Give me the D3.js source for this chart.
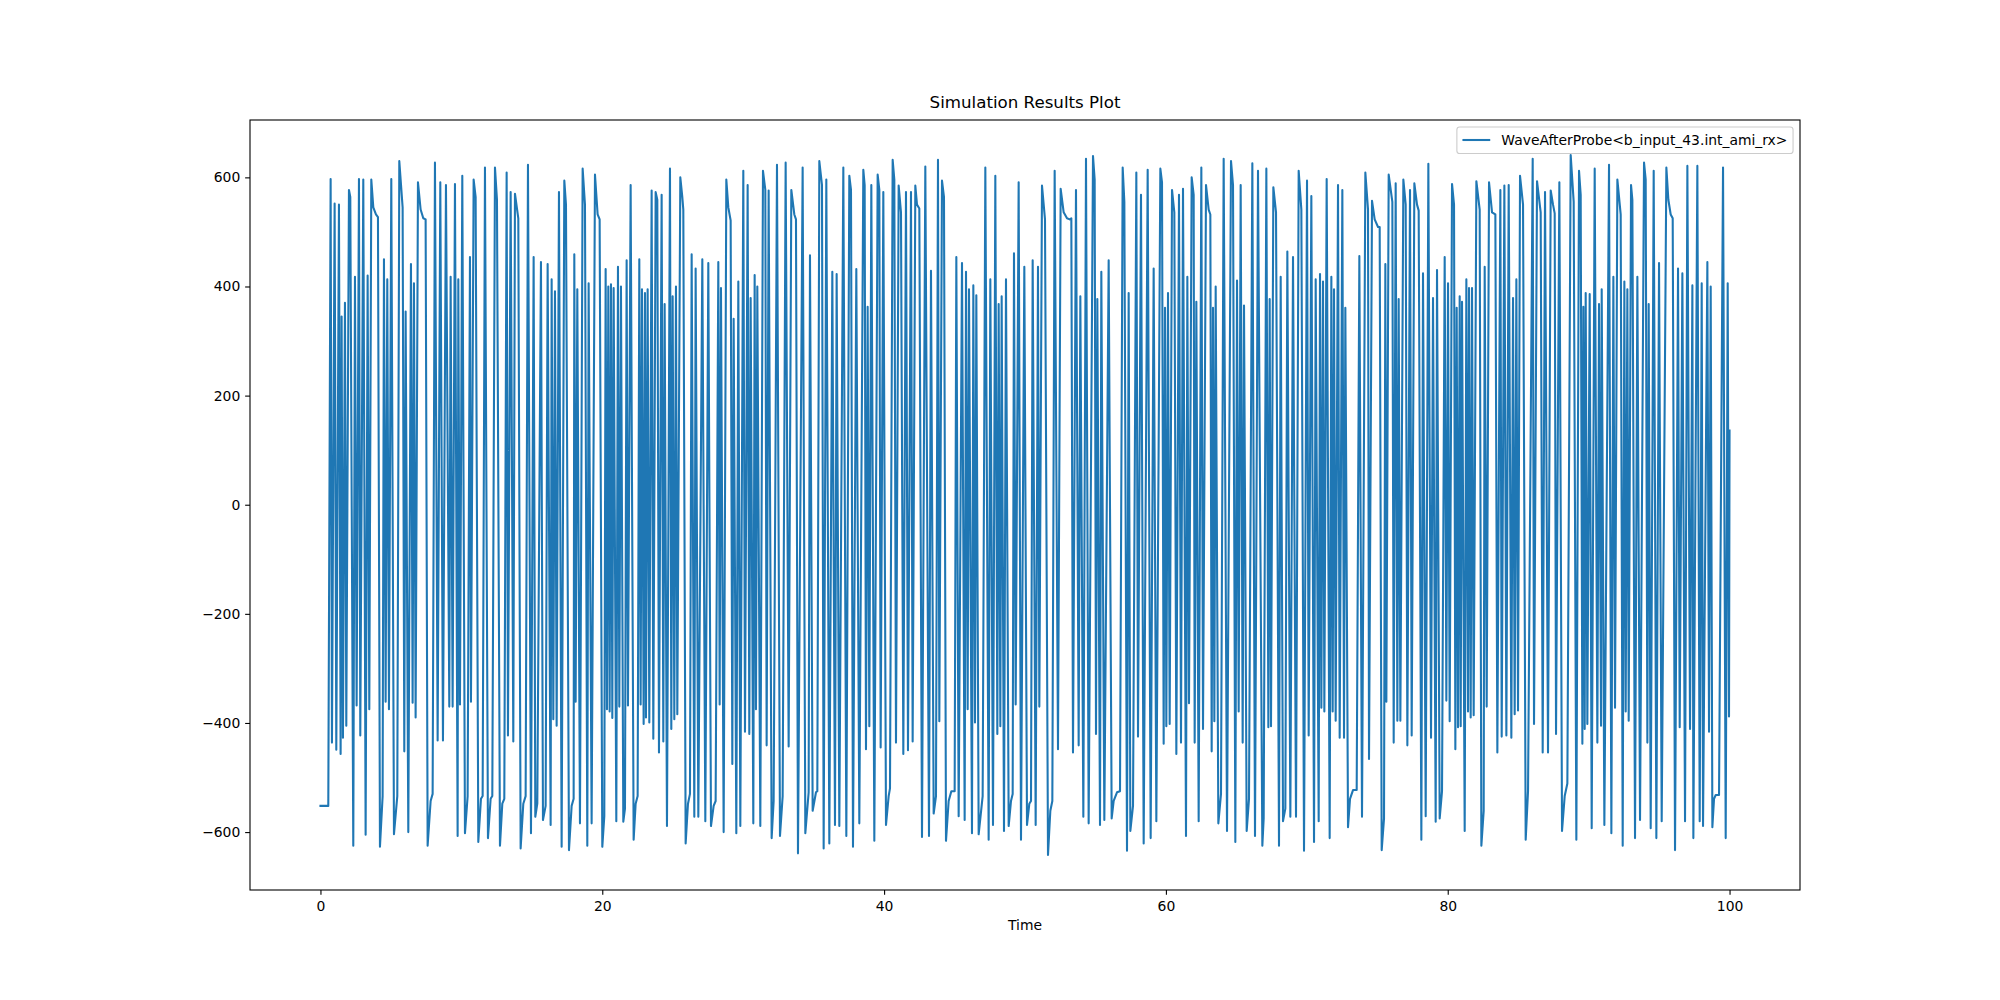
<!DOCTYPE html>
<html><head><meta charset="utf-8">
<script src="https://cdn.jsdelivr.net/npm/d3@7"></script>
<style>body{margin:0;background:#fff} svg{display:block} text{font-family:"DejaVu Sans",sans-serif;fill:#000}</style>
</head><body><svg id="c" width="2000" height="1000"></svg>
<script>
const chartTitle = "Simulation Results Plot";
const xLabel = "Time";
const seriesName = "WaveAfterProbe<b_input_43.int_ami_rx>";
const xTicks = [0, 20, 40, 60, 80, 100];
const yTicks = [-600, -400, -200, 0, 200, 400, 600];

// vertices of the waveform (time, value)
const times = [
0,0.556,0.722,0.816,1.006,1.124,1.313,1.431,1.502,1.597,1.739,1.834,2.023,2.117,2.330,2.449,2.567,2.733,2.827,3.040,3.206,3.348,3.466,3.608,3.750,3.939,4.081,4.223,4.412,4.507,4.625,4.743,4.862,5.027,5.217,5.453,5.595,5.832,5.950,6.045,6.234,6.423,6.541,6.636,6.754,6.920,7.109,7.298,7.464,7.606,7.819,7.961,8.126,8.316,8.505,8.694,8.907,9.144,9.238,9.380,
9.546,9.735,9.783,9.901,10.066,10.256,10.445,10.611,10.682,10.871,11.013,11.202,11.391,11.510,11.675,11.888,12.077,12.196,12.385,12.527,12.740,12.905,13.047,13.213,13.307,13.497,13.686,13.804,14.041,14.206,14.396,14.561,14.727,14.940,15.129,15.247,15.389,15.649,15.791,15.981,16.123,16.336,16.407,16.525,16.643,16.762,16.927,17.116,17.306,17.424,17.637,17.826,17.968,18.015,18.110,18.228,18.417,18.607,18.772,18.938,19.032,19.245,
19.482,19.671,19.813,20.002,20.144,20.239,20.334,20.428,20.523,20.618,20.712,20.807,20.996,21.114,21.209,21.327,21.493,21.611,21.729,21.824,22.013,22.226,22.368,22.510,22.628,22.723,22.818,22.936,23.031,23.102,23.220,23.338,23.504,23.622,23.788,23.906,24.024,24.213,24.332,24.426,24.592,24.805,24.899,24.994,25.112,25.231,25.325,25.538,25.680,25.751,25.917,26.082,26.224,26.343,26.532,26.626,26.816,27.100,27.313,27.525,27.715,27.904,28.046,28.235,28.330,28.424,28.614,28.803,28.945,29.111,29.229,29.323,29.513,
29.655,29.797,30.009,30.128,30.317,30.435,30.530,30.719,30.814,30.908,31.003,31.216,31.405,31.571,31.665,31.807,32.020,32.162,32.399,32.612,32.801,33.014,33.227,33.416,33.629,33.747,33.889,34.220,34.410,34.646,34.741,34.930,35.167,35.261,35.403,35.592,35.711,35.900,36.113,36.326,36.515,36.633,36.823,37.107,37.320,37.532,37.651,37.793,38.029,38.242,38.526,38.621,38.715,38.833,38.952,39.094,39.307,
39.543,39.662,39.756,39.945,40.135,40.324,40.419,40.608,40.726,40.844,41.034,41.199,41.365,41.554,41.696,41.909,42.027,42.216,42.335,42.500,42.690,42.926,43.187,43.328,43.518,43.683,43.825,43.920,44.109,44.251,44.393,44.582,44.772,45.008,45.127,45.292,45.529,45.718,45.813,45.931,46.025,46.238,46.333,46.451,46.546,46.711,46.995,47.185,47.421,47.539,47.729,47.894,48.036,48.131,48.249,48.344,48.509,48.651,48.841,49.006,49.125,49.219,49.338,
49.550,49.716,49.952,50.142,50.307,50.426,50.544,50.757,50.922,51.017,51.206,51.419,51.632,51.798,51.940,52.105,52.342,52.531,52.744,52.981,53.170,53.288,53.406,53.619,53.809,53.927,54.140,54.329,54.518,54.826,54.944,55.039,55.133,55.323,55.417,55.630,55.938,56.151,56.293,56.529,56.742,56.932,57.050,57.239,57.357,57.476,57.665,57.901,58.020,58.232,58.422,58.706,58.918,59.131,59.321,
59.605,59.723,59.841,59.936,60.030,60.149,60.267,60.433,60.598,60.740,60.929,61.071,61.213,61.426,61.521,61.639,61.828,61.970,62.041,62.160,62.325,62.514,62.633,62.846,63.035,63.153,63.248,63.342,63.437,63.532,63.721,63.910,64.099,64.336,64.620,64.762,64.927,65.046,65.164,65.306,65.448,65.543,65.732,65.897,66.134,66.323,66.536,66.844,66.938,67.128,67.270,67.364,67.459,67.624,67.814,68.026,68.145,68.310,68.476,68.618,68.831,69.020,69.233,
69.422,69.612,69.801,70.014,70.132,70.321,70.511,70.629,70.842,70.936,71.031,71.149,71.244,71.409,71.622,71.741,71.835,71.930,72.048,72.214,72.332,72.521,72.640,72.734,72.924,73.065,73.278,73.539,73.728,73.917,74.154,74.343,74.414,74.627,74.816,75.053,75.171,75.313,75.479,75.573,75.644,75.810,76.070,76.165,76.306,76.425,76.519,76.638,76.851,77.016,77.135,77.324,77.442,77.631,77.821,77.939,78.128,78.246,78.436,78.625,78.814,78.956,79.145,79.240,
79.429,79.595,79.784,79.902,80.021,80.139,80.305,80.447,80.541,80.636,80.730,80.849,80.920,81.014,81.204,81.322,81.440,81.511,81.629,81.724,81.842,82.032,82.268,82.387,82.552,82.623,82.765,82.931,83.144,83.380,83.522,83.735,83.830,84.019,84.161,84.327,84.515,84.634,84.752,84.871,84.989,85.131,85.344,85.533,85.699,86.030,86.124,86.337,86.597,86.739,86.905,87.118,87.307,87.473,87.591,87.686,87.922,88.111,88.301,88.490,88.726,88.939,89.128,
89.318,89.436,89.555,89.626,89.720,89.791,89.909,90.075,90.217,90.430,90.619,90.737,90.879,90.927,91.116,91.447,91.613,91.755,91.873,92.039,92.275,92.417,92.535,92.630,92.748,92.843,93.009,93.103,93.292,93.458,93.647,93.931,94.049,94.168,94.262,94.404,94.617,94.806,94.996,95.185,95.516,95.658,95.824,95.966,96.131,96.344,96.463,96.652,96.841,97.007,97.196,97.362,97.432,97.716,97.882,98.024,98.118,98.426,98.544,98.662,98.781,98.899,99.018,99.254,99.538,99.727,99.869,99.963,100.0
];
const values = [
-552,-552,597,-436,552,-449,550,-457,345,-427,370,-405,577,564,-625,418,-368,597,-423,596,-605,420,-375,596,545,532,527,-627,-534,450,-361,413,-375,597,-604,-534,630,545,-452,354,-600,441,-363,406,-390,591,541,525,523,-625,-543,-530,627,-432,591,-432,586,-370,418,-370,
588,-607,413,-366,603,-602,-534,454,-361,596,564,-618,-539,-534,618,-611,-539,-534,618,559,-625,-548,-539,609,-423,573,-434,570,525,-630,-548,-534,623,-602,454,-572,-548,445,-578,-552,441,-587,413,-393,391,-405,573,-627,594,550,-633,-552,-539,459,-361,395,-584,616,550,-625,406,-584,
605,532,523,-627,-571,432,-375,400,-379,404,-391,397,-580,436,-370,400,-581,-557,448,-368,586,-614,-548,-534,450,-366,395,-402,388,-390,395,-399,576,-429,573,559,-454,568,-434,368,-589,616,-411,382,-393,400,-384,600,564,541,-621,-548,-530,459,-572,433,-572,450,-580,443,-589,-552,-543,445,-366,397,-600,596,545,521,-475,341,-602,
409,-589,612,-416,586,-420,379,-584,421,-375,400,-589,612,577,-441,576,-611,-543,623,-607,-534,627,-443,577,532,523,-639,618,-602,-527,457,-561,-527,-525,630,586,-630,596,-621,427,-587,423,-589,618,-607,603,577,-627,432,-584,614,586,-448,363,-406,586,-616,
605,577,-445,573,-587,-534,-520,632,596,-436,585,536,-457,573,-450,573,-434,585,550,543,-609,620,-607,429,-566,-534,632,-397,594,564,-616,-543,-525,-525,454,-571,443,-578,427,-375,395,-602,402,-399,384,-604,-534,618,-614,413,-587,603,-420,368,-406,382,-598,413,-589,-543,-530,461,-366,
591,-614,436,-587,-548,-543,448,-587,436,-370,585,523,-642,-561,-543,612,-448,579,536,525,523,525,-454,577,-441,382,-572,634,-584,639,596,-420,377,-587,427,-578,448,-575,-543,-527,-525,618,555,-634,388,-598,-552,609,-425,568,-621,614,-611,433,-580,
616,591,-438,361,-406,388,-402,577,536,-457,568,-436,579,-607,418,-364,600,568,-436,372,-580,618,-411,586,541,532,-452,361,-397,400,-584,-530,634,-598,630,586,-618,411,-379,586,-436,365,-598,-539,626,-607,612,-625,-575,616,-408,377,-406,582,536,-625,418,-580,-557,464,-572,454,-572,
612,541,-634,594,-423,566,-618,413,-580,423,-372,409,-379,597,-611,418,-379,395,-396,586,-427,577,-427,361,-591,-539,-523,-523,456,-572,609,541,-466,557,523,509,509,-633,-575,441,-361,605,555,-436,589,-396,377,-396,596,550,-441,577,-423,589,550,539,-614,424,-571,625,-427,379,-581,430,
-575,-525,454,-359,406,-397,588,550,-448,361,-408,382,-406,372,-598,413,-379,397,-390,397,-386,593,541,-625,-561,436,-370,591,536,532,-454,577,-425,585,-423,586,-427,379,-384,413,-377,603,550,-614,-525,634,-402,593,536,-454,573,-454,576,550,534,-420,591,-598,-534,-511,641,555,-614,
612,568,-438,363,-411,388,-402,386,-593,616,-436,368,-405,395,-587,623,-602,418,-372,596,532,-625,409,-379,395,-396,586,559,-611,418,-578,627,596,-436,368,-593,612,-611,443,-580,618,559,532,525,-633,433,-408,424,-580,621,-411,402,-611,621,-580,406,-589,445,-416,400,-591,-539,-532,-532,618,-611,406,-388,136
];

const svg = d3.select("#c");
const L = 250, R = 1800, T = 120, B = 890;
const ext = d3.extent(values), xr = d3.extent(times);
const ypad = (ext[1] - ext[0]) * 0.05, xpad = (xr[1] - xr[0]) * 0.05;
const x = d3.scaleLinear().domain([xr[0] - xpad, xr[1] + xpad]).range([L, R]);
const y = d3.scaleLinear().domain([ext[0] - ypad, ext[1] + ypad]).range([B, T]);

svg.append("rect").attr("width", 2000).attr("height", 1000).attr("fill", "#fff");

svg.append("defs").append("clipPath").attr("id", "clip")
  .append("rect").attr("x", L).attr("y", T).attr("width", R - L).attr("height", B - T);

const line = d3.line().x(i => x(times[i])).y(i => y(values[i]));
svg.append("path")
  .attr("clip-path", "url(#clip)")
  .attr("d", line(d3.range(times.length)))
  .attr("fill", "none").attr("stroke", "#1f77b4").attr("stroke-width", 2.08)
  .attr("stroke-linejoin", "round").attr("stroke-linecap", "square");

const fmt = d => (d < 0 ? "\u2212" + Math.abs(d) : String(d));
const gx = svg.append("g").attr("transform", `translate(0,${B})`)
  .call(d3.axisBottom(x).tickValues(xTicks).tickSize(4.86).tickPadding(6).tickFormat(fmt));
const gy = svg.append("g").attr("transform", `translate(${L},0)`)
  .call(d3.axisLeft(y).tickValues(yTicks).tickSize(4.86).tickPadding(4.86).tickFormat(fmt));
[gx, gy].forEach(g => {
  g.select(".domain").remove();
  g.selectAll(".tick line").attr("stroke", "#000").attr("stroke-width", 1.1);
  g.selectAll(".tick text").attr("font-size", "13.9px").attr("font-family", "DejaVu Sans").attr("fill", "#000");
});

svg.append("rect").attr("x", L).attr("y", T).attr("width", R - L).attr("height", B - T)
  .attr("fill", "none").attr("stroke", "#000").attr("stroke-width", 1.1);

svg.append("text").attr("x", (L + R) / 2).attr("y", 108).attr("text-anchor", "middle")
  .attr("font-size", "16.67px").text(chartTitle);
svg.append("text").attr("x", (L + R) / 2).attr("y", 930).attr("text-anchor", "middle")
  .attr("font-size", "13.9px").text(xLabel);

// legend
const lg = svg.append("g");
const lbox = lg.append("rect");
const ltext = lg.append("text").attr("font-size", "13.9px").attr("y", 145).text(seriesName);
const tw = ltext.node().getComputedTextLength();
const lw = 5.56 + 27.8 + 11.1 + tw + 5.56;
const lx = R - 6.95 - lw;
lbox.attr("x", lx).attr("y", 127).attr("width", lw).attr("height", 26.5).attr("rx", 2.8)
  .attr("fill", "#fff").attr("fill-opacity", 0.8).attr("stroke", "#cccccc").attr("stroke-width", 1.1);
lg.append("line").attr("x1", lx + 5.56).attr("x2", lx + 5.56 + 27.8).attr("y1", 140).attr("y2", 140)
  .attr("stroke", "#1f77b4").attr("stroke-width", 2.08);
ltext.attr("x", lx + 5.56 + 27.8 + 11.1);
</script></body></html>
